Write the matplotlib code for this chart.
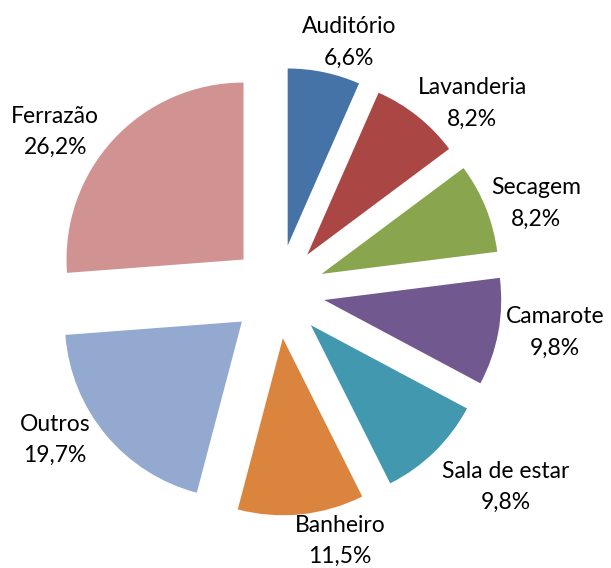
import numpy as np
import matplotlib.pyplot as plt

# share of each room, clockwise from the top
rooms = ['Auditório', 'Lavanderia', 'Secagem', 'Camarote',
         'Sala de estar', 'Banheiro', 'Outros', 'Ferrazão']
pct = [6.6, 8.2, 8.2, 9.8, 9.8, 11.5, 19.7, 26.2]
colors = ['#4572A7', '#AA4643', '#89A54E', '#71588F',
          '#4198AF', '#DB843D', '#93A9CF', '#D19392']

# label placement: distance (x radius) and turn from the slice middle (deg)
lab_r = [1.20, 1.265, 1.275, 1.316, 1.432, 1.19, 1.25, 1.286]
lab_turn = [-4.9, -9.0, -3.8, 2.5, 6.1, 9.8, -7.4, 8.7]

W, H = 611, 568
R = 177  # pie radius in pixels
fig = plt.figure(figsize=(W/100, H/100), dpi=100)
ax = fig.add_axes([0, 0, 1, 1])

wedges, _ = ax.pie(pct, colors=colors, startangle=90, counterclock=False,
                   radius=R, center=(278, H-291.5), explode=[47]*len(pct),
                   wedgeprops=dict(linewidth=0))
ax.set_xlim(0, W)
ax.set_ylim(0, H)
ax.axis('off')

for w, name, p, lr, lt in zip(wedges, rooms, pct, lab_r, lab_turn):
    mid = np.deg2rad(0.5*(w.theta1 + w.theta2) + lt)
    cx, cy = w.center
    tx = cx + R*lr*np.cos(mid)
    ty = cy + R*lr*np.sin(mid)
    txt = '%s\n%s%%' % (name, ('%.1f' % p).replace('.', ','))
    ax.text(tx, ty, txt, ha='center', va='center', fontsize=16.5,
            family='Lato', linespacing=1.62, color='black')

fig.savefig('out.png', dpi=100)
